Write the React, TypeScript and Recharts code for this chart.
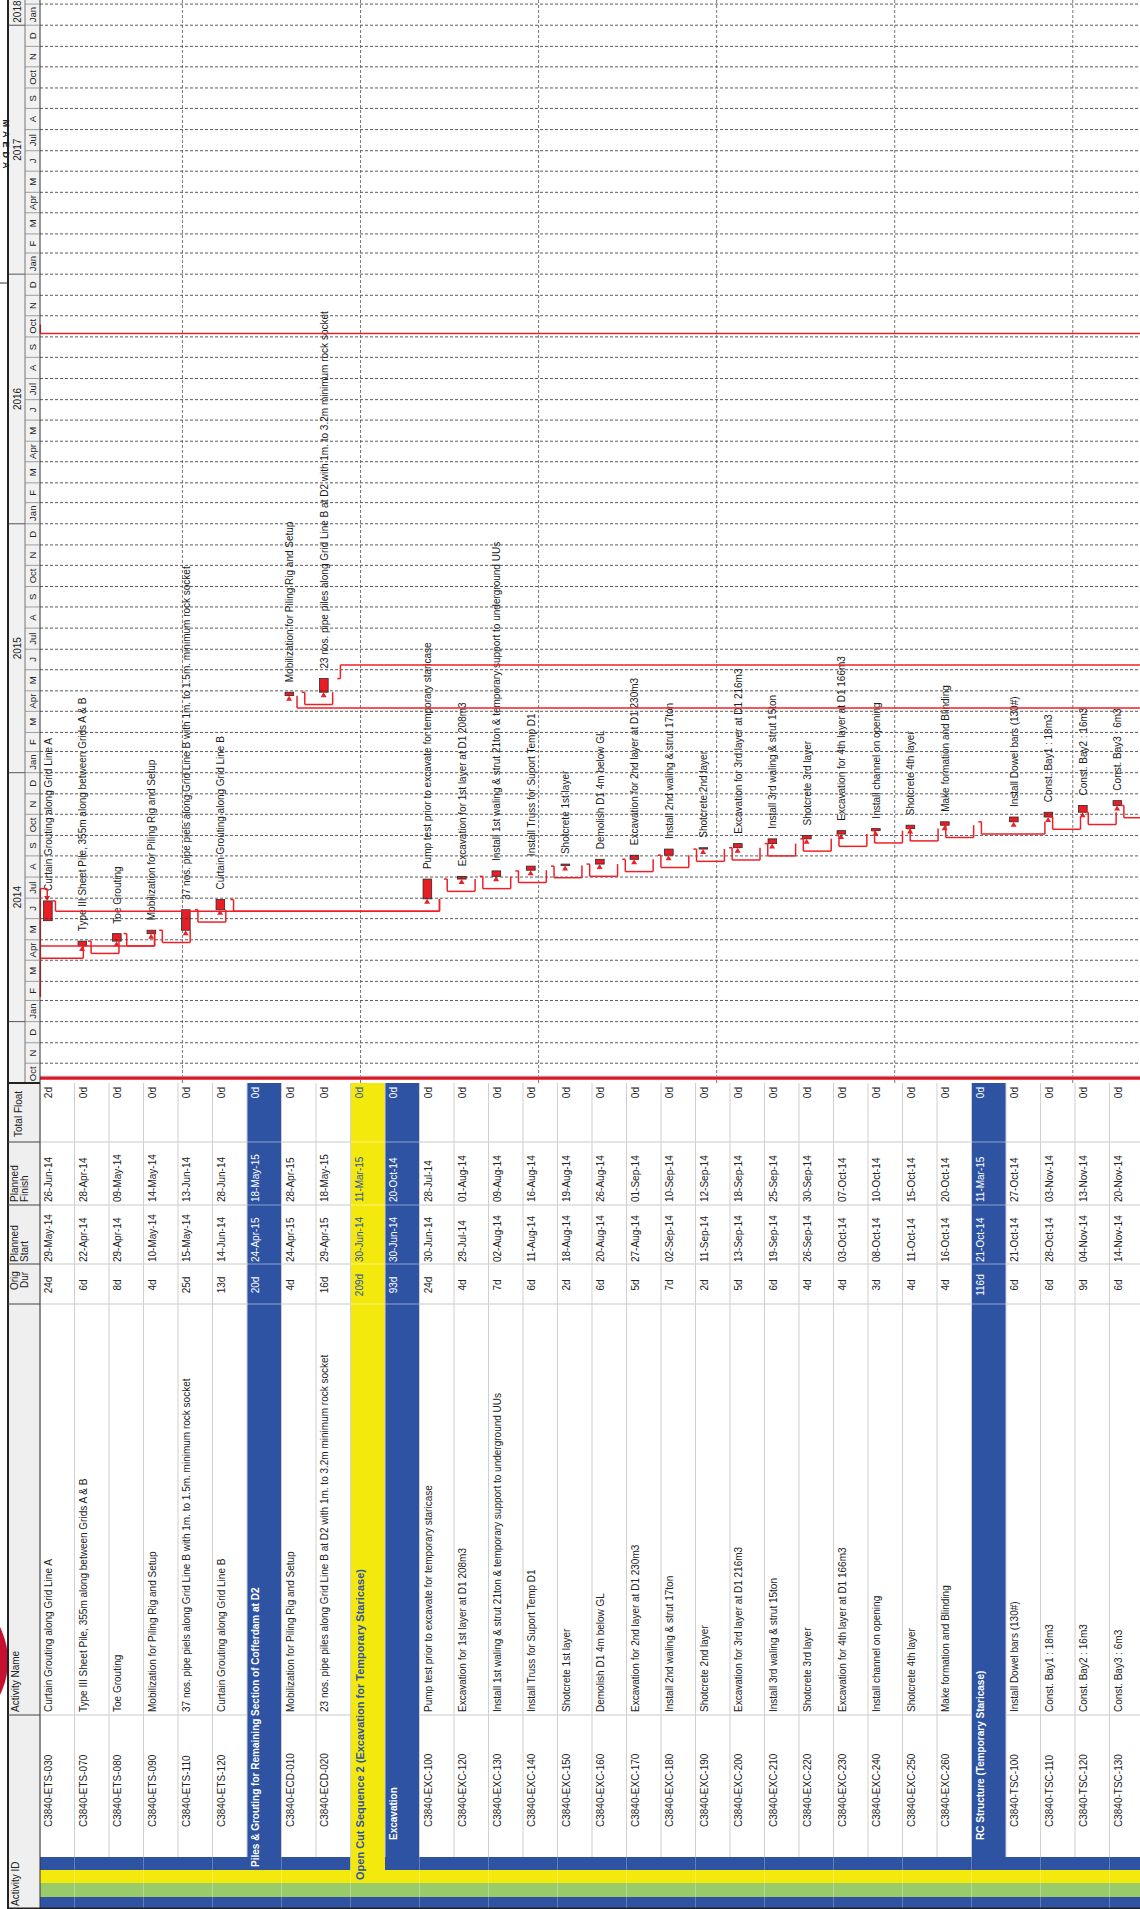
import React from 'react';
import { ComposedChart, Bar, XAxis, YAxis, ReferenceLine } from 'recharts';

const FONT = '"Liberation Sans", Arial, Helvetica, sans-serif';
const BLUE = '#2f53a3';
const YELLOW = '#f4e90c';
const GREEN = '#9acb6a';
const RED = '#ec1c24';
const LINK = '#ee2027';

// ---------------- data ----------------
const activityIds = [
  'C3840-ETS-030', 'C3840-ETS-070', 'C3840-ETS-080', 'C3840-ETS-090', 'C3840-ETS-110', 'C3840-ETS-120',
  '', 'C3840-ECD-010', 'C3840-ECD-020', '', '',
  'C3840-EXC-100', 'C3840-EXC-120', 'C3840-EXC-130', 'C3840-EXC-140', 'C3840-EXC-150', 'C3840-EXC-160',
  'C3840-EXC-170', 'C3840-EXC-180', 'C3840-EXC-190', 'C3840-EXC-200', 'C3840-EXC-210', 'C3840-EXC-220',
  'C3840-EXC-230', 'C3840-EXC-240', 'C3840-EXC-250', 'C3840-EXC-260',
  '', 'C3840-TSC-100', 'C3840-TSC-110', 'C3840-TSC-120', 'C3840-TSC-130',
];

const activityNames = [
  'Curtain Grouting along Grid Line A',
  'Type III Sheet Pile, 355m along between Grids A & B',
  'Toe Grouting',
  'Mobilization for Piling Rig and Setup',
  '37 nos. pipe piels along Grid Line B with 1m. to 1.5m. minimum rock socket',
  'Curtain Grouting along Grid Line B',
  'Piles & Grouting for Remaining Section of Cofferdam at D2',
  'Mobilization for Piling Rig and Setup',
  '23 nos. pipe piles along Grid Line B at D2 with 1m. to 3.2m minimum rock socket',
  'Open Cut Sequence 2 (Excavation for Temporary Staricase)',
  'Excavation',
  'Pump test prior to excavate for temporary staricase',
  'Excavation for 1st layer at D1 208m3',
  'Install 1st waling & strut 21ton & temporary support to underground UUs',
  'Install Truss for Suport Temp D1',
  'Shotcrete 1st layer',
  'Demolish D1 4m below GL',
  'Excavation for 2nd layer at D1 230m3',
  'Install 2nd waling & strut 17ton',
  'Shotcrete 2nd layer',
  'Excavation for 3rd layer at D1 216m3',
  'Install 3rd waling & strut 15ton',
  'Shotcrete 3rd layer',
  'Excavation for 4th layer at D1 166m3',
  'Install channel on opening',
  'Shotcrete 4th layer',
  'Make formation and Blinding',
  'RC Structure (Temporary Staricase)',
  'Install Dowel bars (130#)',
  'Const. Bay1 : 18m3',
  'Const. Bay2 : 16m3',
  'Const. Bay3 : 6m3',
];

const rowKinds = [
  'task', 'task', 'task', 'task', 'task', 'task',
  'blue', 'task', 'task', 'yellow', 'blue',
  'task', 'task', 'task', 'task', 'task', 'task', 'task', 'task', 'task', 'task', 'task', 'task', 'task', 'task', 'task', 'task',
  'blue', 'task', 'task', 'task', 'task',
];

const origDur = [
  '24d', '6d', '8d', '4d', '25d', '13d', '20d', '4d', '16d', '209d', '93d',
  '24d', '4d', '7d', '6d', '2d', '6d', '5d', '7d', '2d', '5d', '6d', '4d', '4d', '3d', '4d', '4d',
  '116d', '6d', '6d', '9d', '6d',
];

const plannedStart = [
  '29-May-14', '22-Apr-14', '29-Apr-14', '10-May-14', '15-May-14', '14-Jun-14', '24-Apr-15', '24-Apr-15', '29-Apr-15',
  '30-Jun-14', '30-Jun-14', '30-Jun-14', '29-Jul-14', '02-Aug-14', '11-Aug-14', '18-Aug-14', '20-Aug-14', '27-Aug-14',
  '02-Sep-14', '11-Sep-14', '13-Sep-14', '19-Sep-14', '26-Sep-14', '03-Oct-14', '08-Oct-14', '11-Oct-14', '16-Oct-14',
  '21-Oct-14', '21-Oct-14', '28-Oct-14', '04-Nov-14', '14-Nov-14',
];

const plannedFinish = [
  '26-Jun-14', '28-Apr-14', '09-May-14', '14-May-14', '13-Jun-14', '28-Jun-14', '18-May-15', '28-Apr-15', '18-May-15',
  '11-Mar-15', '20-Oct-14', '28-Jul-14', '01-Aug-14', '09-Aug-14', '16-Aug-14', '19-Aug-14', '26-Aug-14', '01-Sep-14',
  '10-Sep-14', '12-Sep-14', '18-Sep-14', '25-Sep-14', '30-Sep-14', '07-Oct-14', '10-Oct-14', '15-Oct-14', '20-Oct-14',
  '11-Mar-15', '27-Oct-14', '03-Nov-14', '13-Nov-14', '20-Nov-14',
];

const totalFloat = [
  '2d', '0d', '0d', '0d', '0d', '0d', '0d', '0d', '0d', '0d', '0d',
  '0d', '0d', '0d', '0d', '0d', '0d', '0d', '0d', '0d', '0d', '0d', '0d', '0d', '0d', '0d', '0d',
  '0d', '0d', '0d', '0d', '0d',
];

// finish-to-start relationships (predecessor row, successor row)
const fsLinks: [number, number][] = [
  [1, 2], [2, 3], [3, 4], [4, 5], [0, 11], [5, 11], [7, 8],
  [11, 12], [12, 13], [13, 14], [14, 15], [15, 16], [16, 17], [17, 18], [18, 19], [19, 20], [20, 21],
  [21, 22], [22, 23], [23, 24], [24, 25], [25, 26], [26, 28], [28, 29], [29, 30], [30, 31],
];
// links coming from / going to activities outside the visible rows
const incomingFromAbove = [1, 3];
const incomingFromBelow = [7];
const outgoingBelow: [number, number][] = [[8, 20], [31, -17]]; // row, offset (days) of the drop line from finish
const finishToFinishIn = [0];
const passThrough = { from: '19-Oct-16', at: '06-Oct-16' };
const ffLineStart = '06-Feb-14';
const dataDate = '10-Oct-13';

// timescale
const monthLetters = ['Jan', 'F', 'M', 'Apr', 'M', 'J', 'Jul', 'A', 'S', 'Oct', 'N', 'D'];
const yearsShown = [2014, 2015, 2016, 2017, 2018];

// ---------------- helpers ----------------
const MON: Record<string, number> = { Jan: 0, Feb: 1, Mar: 2, Apr: 3, May: 4, Jun: 5, Jul: 6, Aug: 7, Sep: 8, Oct: 9, Nov: 10, Dec: 11 };
const dayOf = (s: string) => {
  const [d, m, y] = s.split('-');
  return Date.UTC(2000 + Number(y), MON[m], Number(d)) / 86400000;
};
const ymd = (y: number, m: number, d: number) => Date.UTC(y, m, d) / 86400000;

const T0 = ymd(2013, 9, 3);
const T1 = ymd(2018, 1, 7);

const ROW_H = 34.5;
const N_ROWS = 32;
const TABLE_W = 826;
const COL_NAME = 194;
const COL_DUR = 605;
const COL_START = 645;
const COL_FIN = 704;
const COL_TF = 767;
const STUB = 18; // days
const F_BAR_TOP = 3.5 / ROW_H;
const F_BAR_H = 8.5 / ROW_H;
const F_BAR_MID = 7.5 / ROW_H;
const F_BAR_BOT = 12 / ROW_H;
const F_DROP = 15 / ROW_H;

// row position (0 = top edge of first row) -> value on the positional axis (0 at bottom)
const P = (rowPos: number) => N_ROWS - rowPos;

const startDay = plannedStart.map(dayOf);
const finishEnd = plannedFinish.map((s) => dayOf(s) + 1);

const arrowRows = new Set<number>([...fsLinks.map((l) => l[1]), ...incomingFromAbove, ...incomingFromBelow]);

const rows = activityIds.map((id, i) => ({
  key: String(i),
  id,
  kind: rowKinds[i],
  span: rowKinds[i] === 'task' ? [startDay[i], finishEnd[i]] : null,
  arrowIn: arrowRows.has(i),
  arrowFF: finishToFinishIn.includes(i),
}));

// link polylines in (day, row position) space
const linkPaths: [number, number][][] = [];
fsLinks.forEach(([p, s]) => {
  const f = finishEnd[p];
  const st = startDay[s];
  linkPaths.push([
    [f, p + F_BAR_BOT], [f, p + F_DROP], [st - STUB, p + F_DROP], [st - STUB, s + F_BAR_MID], [st, s + F_BAR_MID],
  ]);
});
incomingFromAbove.forEach((s) => {
  const st = startDay[s];
  linkPaths.push([[st - STUB, 0], [st - STUB, s + F_BAR_MID], [st, s + F_BAR_MID]]);
});
incomingFromBelow.forEach((s) => {
  const st = startDay[s];
  linkPaths.push([[st - STUB, N_ROWS], [st - STUB, s + F_BAR_MID], [st, s + F_BAR_MID]]);
});
outgoingBelow.forEach(([p, off]) => {
  const f = finishEnd[p];
  linkPaths.push([[f, p + F_BAR_BOT], [f, p + F_DROP], [f + off, p + F_DROP], [f + off, N_ROWS]]);
});
finishToFinishIn.forEach((r) => {
  const f = finishEnd[r];
  const m = r + 7 / ROW_H;
  linkPaths.push([[dayOf(ffLineStart), 0.01], [f + STUB, 0.01], [f + STUB, m], [f + 6, m]]);
});
linkPaths.push([[dayOf(passThrough.from), 0.01], [dayOf(passThrough.at), 0.01], [dayOf(passThrough.at), N_ROWS]]);

const linkSegments: { a: [number, number]; b: [number, number] }[] = [];
linkPaths.forEach((path) => {
  for (let k = 0; k < path.length - 1; k++) linkSegments.push({ a: path[k], b: path[k + 1] });
});

// months / years
const monthStarts: number[] = [];
const monthLabelByTick = new Map<number, string>();
for (let y = 2013; y <= 2018; y++) {
  for (let m = 0; m < 12; m++) {
    const s = ymd(y, m, 1);
    const e = ymd(y, m + 1, 1);
    if (e <= T0 || s >= T1) continue;
    if (s > T0) monthStarts.push(s);
    const mid = (s + e) / 2;
    if (mid > T0 && mid < T1) monthLabelByTick.set(mid, monthLetters[m]);
  }
}
const monthTicks = [...monthStarts, ...Array.from(monthLabelByTick.keys())].sort((a, b) => a - b);

const yearStarts = yearsShown.map((y) => ymd(y, 0, 1)).filter((d) => d > T0 && d < T1);
const yearLabelByTick = new Map<number, string>();
yearsShown.forEach((y) => {
  const s = Math.max(ymd(y, 0, 1), T0);
  const e = Math.min(ymd(y + 1, 0, 1), T1);
  // a year that is only partly visible keeps its label close to the chart edge
  const pos = e - s < 100 ? e - 17 : (s + e) / 2;
  yearLabelByTick.set(pos, String(y));
});
const yearTicks = [...yearStarts, ...Array.from(yearLabelByTick.keys())].sort((a, b) => a - b);

const groupLines = [3, 8, 13, 18, 23, 28];

// ---------------- renderers ----------------
const MonthTick = (props: any) => {
  const { x, payload } = props;
  const label = monthLabelByTick.get(payload.value);
  if (label === undefined) {
    return <line x1={x} x2={x} y1={25} y2={40} stroke="#8a8a8a" strokeWidth={0.8} />;
  }
  return (
    <text x={x} y={36} textAnchor="middle" fontSize={9.5} fontFamily={FONT} fill="#222">
      {label}
    </text>
  );
};

const YearTick = (props: any) => {
  const { x, payload } = props;
  const label = yearLabelByTick.get(payload.value);
  if (label === undefined) {
    return <line x1={x} x2={x} y1={8} y2={25} stroke="#555" strokeWidth={1} />;
  }
  return (
    <text x={x} y={21} textAnchor="middle" fontSize={10} fontFamily={FONT} fill="#222">
      {label}
    </text>
  );
};

const txt = (x: number, y: number, s: string, opts: any = {}) => (
  <text x={x} y={y} fontSize={10} fontFamily={FONT} fill="#222" {...opts}>
    {s}
  </text>
);

const RowTick = (props: any) => {
  const { y, payload } = props;
  const i = Number(payload.value);
  const top = y - ROW_H / 2;
  const kind = rowKinds[i];
  const base = top + 12;
  const els: any[] = [];
  els.push(<rect key="b1" x={0} y={top} width={12} height={ROW_H} fill={BLUE} />);
  els.push(<rect key="b2" x={12} y={top} width={14} height={ROW_H} fill={GREEN} />);
  if (kind === 'yellow') {
    els.push(<rect key="b3" x={26} y={top} width={TABLE_W - 26} height={ROW_H} fill={YELLOW} />);
  } else {
    els.push(<rect key="b3" x={26} y={top} width={13} height={ROW_H} fill={YELLOW} />);
    if (kind === 'blue') {
      els.push(<rect key="b4" x={39} y={top} width={TABLE_W - 39} height={ROW_H} fill={BLUE} />);
    } else {
      els.push(<rect key="b4" x={39} y={top} width={13} height={ROW_H} fill={BLUE} />);
      els.push(<rect key="cell" x={52} y={top} width={TABLE_W - 52} height={ROW_H} fill="#fff" />);
    }
  }
  const sepColor = kind === 'task' ? '#c9c9c9' : 'rgba(255,255,255,0.45)';
  const cols = kind === 'task' ? [COL_NAME, COL_DUR, COL_START, COL_FIN, COL_TF] : [COL_DUR, COL_START, COL_FIN, COL_TF];
  cols.forEach((c) =>
    els.push(<line key={'c' + c} x1={c} x2={c} y1={top} y2={top + ROW_H} stroke={sepColor} strokeWidth={1} />)
  );
  els.push(<line key="rt" x1={52} x2={TABLE_W} y1={top} y2={top} stroke="#cfcfcf" strokeWidth={1} />);

  if (kind === 'task') {
    els.push(<g key="t">
      {txt(82, base, activityIds[i])}
      {txt(197, base, activityNames[i])}
      {txt(624, base, origDur[i], { textAnchor: 'middle' })}
      {txt(647, base, plannedStart[i])}
      {txt(707, base, plannedFinish[i])}
      {txt(822, base, totalFloat[i], { textAnchor: 'end' })}
    </g>);
  } else {
    const isY = kind === 'yellow';
    const col = isY ? BLUE : '#fff';
    const sx = isY ? 29 : i === 6 ? 42 : 69;
    els.push(<g key="t">
      {txt(sx, isY ? top + 13 : base, activityNames[i], { fill: col, fontWeight: 'bold', fontSize: isY ? 11 : 10 })}
      {txt(624, base, origDur[i], { textAnchor: 'middle', fill: col })}
      {txt(647, base, plannedStart[i], { fill: col })}
      {txt(707, base, plannedFinish[i], { fill: col })}
      {txt(822, base, totalFloat[i], { textAnchor: 'end', fill: col })}
    </g>);
  }
  return <g>{els}</g>;
};

const BarShape = (props: any) => {
  const { x, y, width, height, payload } = props;
  if (!payload || payload.kind !== 'task' || x == null) return <g />;
  const i = Number(payload.key);
  const h = height;
  const by = y + h * F_BAR_TOP;
  const bh = h * F_BAR_H;
  const cy = y + h * F_BAR_MID;
  const end = x + width;
  return (
    <g>
      <rect x={x} y={by} width={Math.max(width, 1)} height={bh} fill={RED} stroke="#2a2a2a" strokeWidth={0.8} />
      {payload.arrowIn && (
        <polygon points={`${x},${cy} ${x - 5},${cy - 3} ${x - 5},${cy + 3}`} fill={LINK} />
      )}
      {payload.arrowFF && (
        <polygon points={`${end},${cy - 0.5} ${end + 5},${cy - 3.5} ${end + 5},${cy + 2.5}`} fill={LINK} />
      )}
      <text x={end + 10} y={y + 11.5} fontSize={10} fontFamily={FONT} fill="#1a1a1a">
        {activityNames[i]}
      </text>
    </g>
  );
};

// ---------------- component ----------------
export default function App() {
  return (
    <div style={{ position: 'absolute', left: 0, top: 0, width: 1140, height: 1909, overflow: 'hidden', background: '#fff' }}>
      <div
        style={{
          position: 'absolute',
          left: 0,
          top: 0,
          width: 1909,
          height: 1140,
          overflow: 'hidden',
          transformOrigin: '0 0',
          transform: 'translateY(1909px) rotate(-90deg)',
          background: '#fff',
        }}
      >
        <svg width={1909} height={1140} style={{ position: 'absolute', left: 0, top: 0 }}>
          <rect x={0} y={8} width={TABLE_W} height={32} fill="#efefef" />
          <rect x={TABLE_W} y={8} width={1909 - TABLE_W} height={32} fill="#f1f1f1" />
          <circle cx={248} cy={-68} r={76} fill="#c5112f" />
          <text
            x={1763}
            y={3}
            textAnchor="middle"
            fontSize={9}
            fontWeight="bold"
            letterSpacing={4}
            fontFamily={FONT}
            fill="#222"
            transform="rotate(180 1763 3)"
          >
            MAEDA
          </text>
          <line x1={1626} x2={1626} y1={0} y2={8} stroke="#333" strokeWidth={1} />
        </svg>
        <div style={{ position: 'absolute', left: 0, top: 0 }}>
          <ComposedChart
            width={1909}
            height={1144}
            data={rows}
            layout="vertical"
            margin={{ top: 8, right: 0, bottom: 0, left: 0 }}
            barCategoryGap={0}
            barGap={0}
          >
            <XAxis
              xAxisId="m"
              type="number"
              orientation="top"
              domain={[T0, T1]}
              allowDataOverflow
              ticks={monthTicks}
              interval={0}
              height={15}
              tick={(p: any) => <MonthTick {...p} />}
              tickLine={false}
              axisLine={{ stroke: '#333', strokeWidth: 1 }}
            />
            <XAxis
              xAxisId="y"
              type="number"
              orientation="top"
              domain={[T0, T1]}
              allowDataOverflow
              ticks={yearTicks}
              interval={0}
              height={17}
              tick={(p: any) => <YearTick {...p} />}
              tickLine={false}
              axisLine={{ stroke: '#777', strokeWidth: 1 }}
            />
            <YAxis
              yAxisId="rows"
              type="category"
              dataKey="key"
              width={TABLE_W}
              interval={0}
              tick={(p: any) => <RowTick {...p} />}
              tickLine={false}
              axisLine={{ stroke: '#222', strokeWidth: 2 }}
            />
            <YAxis yAxisId="pos" type="number" domain={[0, N_ROWS]} allowDataOverflow hide />

            {monthStarts.map((d) => (
              <ReferenceLine key={'m' + d} xAxisId="m" yAxisId="pos" x={d} stroke="#333" strokeWidth={0.8} strokeDasharray="3 2" />
            ))}
            {groupLines.map((r) => (
              <ReferenceLine key={'g' + r} xAxisId="m" yAxisId="pos" y={P(r)} stroke="#555" strokeWidth={0.8} strokeDasharray="3 2" />
            ))}
            <ReferenceLine xAxisId="m" yAxisId="pos" x={dayOf(dataDate) + 2.5} stroke="#a9badb" strokeWidth={1.5} />
            <ReferenceLine xAxisId="m" yAxisId="pos" x={dayOf(dataDate)} stroke="#e8141b" strokeWidth={3} />
            {linkSegments.map((s, k) => (
              <ReferenceLine
                key={'l' + k}
                xAxisId="m"
                yAxisId="pos"
                ifOverflow="visible"
                segment={[{ x: s.a[0], y: s.a[1] }, { x: s.b[0], y: s.b[1] }]}
                stroke={LINK}
                strokeWidth={1.5}
              />
            ))}
            <Bar xAxisId="m" yAxisId="rows" dataKey="span" shape={(p: any) => <BarShape {...p} />} isAnimationActive={false} />
          </ComposedChart>
        </div>
        <svg width={1909} height={1140} style={{ position: 'absolute', left: 0, top: 0, pointerEvents: 'none' }}>
          <rect x={0} y={7} width={1909} height={2} fill="#222" />
          <line x1={0} x2={TABLE_W} y1={40} y2={40} stroke="#333" strokeWidth={1} />
          <rect x={0} y={8} width={1.5} height={1132} fill="#222" />
          {[COL_NAME, COL_DUR, COL_START, COL_FIN, COL_TF].map((c) => (
            <line key={c} x1={c} x2={c} y1={8} y2={40} stroke="#444" strokeWidth={1} />
          ))}
          <line x1={TABLE_W} x2={TABLE_W} y1={8} y2={40} stroke="#222" strokeWidth={2} />
          {txt(3, 19, 'Activity ID')}
          {txt(197, 19, 'Activity Name')}
          {txt(619, 18, 'Orig')}
          {txt(621, 28, 'Dur')}
          {txt(647, 18, 'Planned')}
          {txt(647, 28, 'Start')}
          {txt(707, 18, 'Planned')}
          {txt(707, 28, 'Finish')}
          {txt(772, 22, 'Total Float')}
        </svg>
      </div>
    </div>
  );
}
